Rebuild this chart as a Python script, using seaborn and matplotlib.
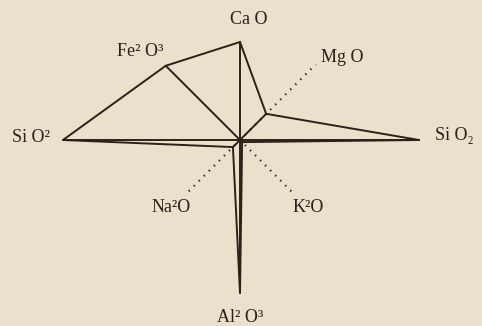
import numpy as np
import pandas as pd
import matplotlib
matplotlib.use('Agg')
import matplotlib.pyplot as plt
import seaborn as sns

# Oxide axes, counter-clockwise from the right
oxides = ['Si O\u2082', 'Mg O', 'Ca O', 'Fe\u00b2 O\u00b3', 'Si O\u00b2', 'Na\u00b2O', 'Al\u00b2 O\u00b3', 'K\u00b2O']
angles = [0, 45, 90, 135, 180, 225, 270, 315]
values = [179, 37, 98, 105, 177, 10, 153, 3]

# dotted guide axes (length)
guide_names = ['Mg O', 'Na\u00b2O', 'K\u00b2O']
guide_len = [107, 74, 75]

ink = '#2b2118'
paper = '#ebe0cb'

sns.set_theme(style='white')
plt.rcParams['font.family'] = ['Liberation Serif', 'DejaVu Serif']

rad = np.deg2rad(angles)
px = np.array(values) * np.cos(rad)
py = np.array(values) * np.sin(rad)

fig = plt.figure(figsize=(4.82, 3.26), dpi=100, facecolor=paper)
ax = fig.add_axes([0, 0, 1, 1])
ax.set_facecolor(paper)

# polygon outline
poly = pd.DataFrame({'x': list(px) + [px[0]], 'y': list(py) + [py[0]]})
sns.lineplot(data=poly, x='x', y='y', sort=False, estimator=None,
             color=ink, linewidth=1.4, ax=ax)

# solid spokes from the centre to each point
spokes = pd.DataFrame({
    'x': np.ravel([[0, a] for a in px]),
    'y': np.ravel([[0, b] for b in py]),
    'seg': np.repeat(oxides, 2),
})
sns.lineplot(data=spokes, x='x', y='y', units='seg', sort=False, estimator=None,
             color=ink, linewidth=1.4, ax=ax)

# dotted axes
gx, gy, gs = [], [], []
for name, ln in zip(guide_names, guide_len):
    a = np.deg2rad(angles[oxides.index(name)])
    gx += [0, ln * np.cos(a)]
    gy += [0, ln * np.sin(a)]
    gs += [name, name]
guides = pd.DataFrame({'x': gx, 'y': gy, 'seg': gs})
sns.lineplot(data=guides, x='x', y='y', units='seg', sort=False, estimator=None,
             color=ink, linewidth=1.6, linestyle=(0, (0.6, 2.6)), ax=ax)

# labels
label_pos = {
    'Ca O': (9, 120), 'Fe\u00b2 O\u00b3': (-100, 88), 'Mg O': (102, 83),
    'Si O\u00b2': (-209, 2), 'Si O\u2082': (214, 4), 'Na\u00b2O': (-69, -68),
    'K\u00b2O': (68, -68), 'Al\u00b2 O\u00b3': (0, -178),
}
for name in oxides:
    x, y = label_pos[name]
    ax.text(x, y, name, ha='center', va='center', fontsize=13, color=ink)

ax.set_xlim(-240, 242)
ax.set_ylim(-186, 140)
ax.set_aspect('equal')
ax.axis('off')

fig.savefig('out.png', dpi=100, facecolor=paper)
